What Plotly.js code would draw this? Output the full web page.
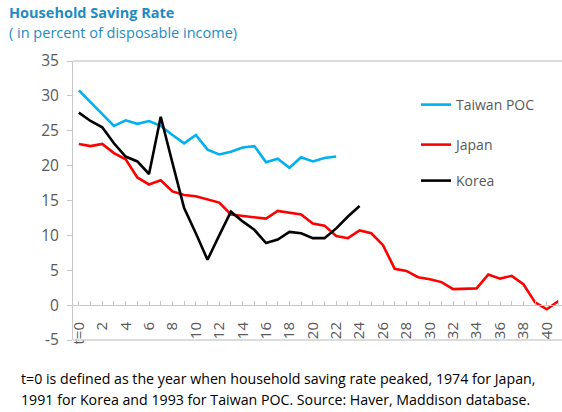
<!DOCTYPE html>
<html>
<head>
<meta charset="utf-8">
<script src="https://cdn.plot.ly/plotly-3.0.1.min.js"></script>
<style>html,body{margin:0;padding:0;background:#fff;}#chart{width:562px;height:412px;}</style>
</head>
<body>
<div id="chart"></div>
<script>
var tJapan = [];
for (var i = 0; i <= 41; i++) tJapan.push(i);
var japan = [23.1, 22.8, 23.1, 21.8, 20.9, 18.3, 17.3, 17.9, 16.3, 15.8, 15.6, 15.2, 14.7, 13.0, 12.8, 12.7, 12.4, 13.5, 13.2, 13.0, 11.7, 11.4, 9.9, 9.6, 10.7, 10.3, 8.6, 5.2, 4.9, 4.0, 3.7, 3.3, 2.3, 2.4, 2.4, 4.4, 3.8, 4.2, 3.0, 0.4, -0.6, 0.6];
var taiwan = [30.8, 29.1, 27.3, 25.7, 26.5, 26.0, 26.4, 25.7, 24.4, 23.2, 24.4, 22.3, 21.6, 22.0, 22.6, 22.8, 20.5, 21.0, 19.7, 21.2, 20.6, 21.1, 21.3];
var korea = [27.6, 26.4, 25.5, 23.2, 21.3, 20.6, 18.8, 27.0, 20.4, 13.9, 10.3, 6.5, 10.0, 13.4, 12.0, 10.8, 8.9, 9.4, 10.5, 10.3, 9.6, 9.6, 11.0, 12.7, 14.2];
var xTickVals = [0,2,4,6,8,10,12,14,16,18,20,22,24,26,28,30,32,34,36,38,40];
var xTickText = ['t=0','2','4','6','8','10','12','14','16','18','20','22','24','26','28','30','32','34','36','38','40'];
var yTickVals = [-5, 0, 5, 10, 15, 20, 25, 30, 35];
var yTickText = ['-5', '0', '5', '10', '15', '20', '25', '30', '35'];
var seriesNames = ['Taiwan POC', 'Japan', 'Korea'];

var FONT = 'Open Sans, Noto Sans, sans-serif';
var L = 73, R = 0, T = 61, B = 72, W = 562, H = 412;
var pw = W - L - R, ph = H - T - B;
function px2x(px){ return (px - L) / pw; }
function py2y(py){ return (H - B - py) / ph; }

var traces = [
  {x: tJapan.slice(0, taiwan.length), y: taiwan, name: seriesNames[0], mode: 'lines', line: {color: '#00B0F0', width: 2.6}, legend: 'legend'},
  {x: tJapan, y: japan, name: seriesNames[1], mode: 'lines', line: {color: '#FF0000', width: 2.6}, legend: 'legend2'},
  {x: tJapan.slice(0, korea.length), y: korea, name: seriesNames[2], mode: 'lines', line: {color: '#000000', width: 2.6}, legend: 'legend3'}
];

function leg(py){
  return {x: px2x(416), y: py2y(py), xanchor: 'left', yanchor: 'middle', bgcolor: 'rgba(0,0,0,0)',
    font: {family: FONT, size: 14, color: '#595959'}, itemwidth: 30};
}

var layout = {
  width: W, height: H,
  margin: {l: L, r: R, t: T, b: B, pad: 0},
  paper_bgcolor: '#fff', plot_bgcolor: '#fff',
  showlegend: true,
  legend: leg(105), legend2: leg(145), legend3: leg(181),
  xaxis: {
    range: [-0.5, 41.3], anchor: 'free', position: py2y(305),
    showgrid: false, zeroline: false, showline: true, linecolor: '#c8c8c8', linewidth: 1,
    tickmode: 'array', tickvals: xTickVals, ticktext: xTickText, tickangle: -90,
    ticks: 'inside', ticklen: 4, tickcolor: '#c8c8c8',
    minor: {dtick: 1, tick0: 0, ticks: 'inside', ticklen: 4, tickcolor: '#c8c8c8', showgrid: false},
    ticklabelstandoff: 10,
    tickfont: {family: FONT, size: 15, color: '#595959'}
  },
  yaxis: {
    range: [-5, 35], tickmode: 'array', tickvals: yTickVals, ticktext: yTickText,
    showgrid: false, zeroline: false, showline: true, linecolor: '#c8c8c8', linewidth: 1,
    ticks: 'outside', ticklen: 5, tickcolor: '#c8c8c8',
    ticklabelstandoff: 5,
    tickfont: {family: FONT, size: 15.5, color: '#595959'}
  },
  shapes: [
    {type: 'line', xref: 'paper', yref: 'paper', x0: 0, x1: 1, y0: 1, y1: 1, line: {color: '#d0d0d0', width: 1.5}},
    {type: 'line', xref: 'paper', yref: 'paper', x0: 0, x1: 1, y0: 0, y1: 0, line: {color: '#d0d0d0', width: 1.5}}
  ],
  annotations: [
    {text: '<b>Household Saving Rate</b>', xref: 'paper', yref: 'paper', x: px2x(7), y: py2y(12), xanchor: 'left', yanchor: 'middle', showarrow: false,
      font: {family: FONT, size: 14.5, color: '#1E8BC3'}},
    {text: '( in percent of disposable income)', xref: 'paper', yref: 'paper', x: px2x(7), y: py2y(33), xanchor: 'left', yanchor: 'middle', showarrow: false,
      font: {family: FONT, size: 14.5, color: '#1E8BC3'}},
    {text: 't=0 is defined as the year when household saving rate peaked, 1974 for Japan,', xref: 'paper', yref: 'paper', x: px2x(19), y: py2y(379), xanchor: 'left', yanchor: 'middle', showarrow: false,
      font: {family: FONT, size: 14.2, color: '#000'}},
    {text: '1991 for Korea and 1993 for Taiwan POC. Source: Haver, Maddison database.', xref: 'paper', yref: 'paper', x: px2x(19), y: py2y(399), xanchor: 'left', yanchor: 'middle', showarrow: false,
      font: {family: FONT, size: 14.2, color: '#000'}}
  ]
};

Plotly.newPlot('chart', traces, layout, {displayModeBar: false, staticPlot: true});
</script>
</body>
</html>
